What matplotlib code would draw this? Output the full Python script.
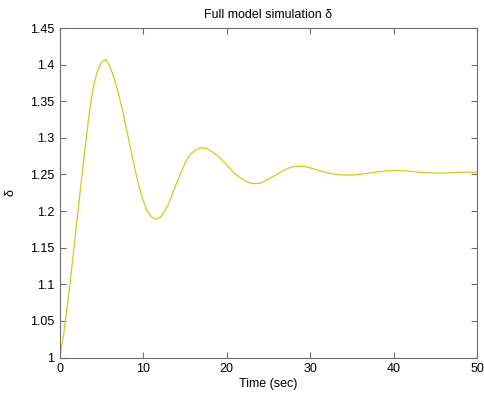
import matplotlib
matplotlib.use("Agg")
import matplotlib.pyplot as plt

# Simulated response of the full model (time in seconds)
time_sec = [i * 0.5 for i in range(101)]
delta = [
    1.000, 1.034, 1.079, 1.128, 1.180, 1.232, 1.282, 1.330, 1.368, 1.391,
    1.4035, 1.407, 1.398, 1.382, 1.362, 1.339, 1.312, 1.285, 1.258, 1.234,
    1.214, 1.200, 1.192, 1.189, 1.191, 1.198, 1.209, 1.223, 1.238, 1.252,
    1.265, 1.275, 1.281, 1.285, 1.2865, 1.286, 1.283, 1.279, 1.275, 1.269,
    1.263, 1.257, 1.251, 1.2465, 1.243, 1.240, 1.238, 1.2375, 1.238, 1.2405,
    1.2435, 1.2468, 1.250, 1.2535, 1.2565, 1.259, 1.2605, 1.2612, 1.2612, 1.2605,
    1.259, 1.2575, 1.2558, 1.254, 1.2525, 1.2513, 1.2503, 1.2497, 1.2494, 1.2493,
    1.2494, 1.2497, 1.2503, 1.251, 1.2518, 1.2527, 1.2535, 1.2542, 1.2548, 1.2552,
    1.2554, 1.2555, 1.2553, 1.2549, 1.2544, 1.2538, 1.2532, 1.2527, 1.2523, 1.2521,
    1.252, 1.252, 1.2521, 1.2523, 1.2525, 1.2527, 1.2529, 1.253, 1.2531, 1.2531,
    1.2531,
]

x_ticks = [0, 10, 20, 30, 40, 50]
y_ticks = [1.0, 1.05, 1.1, 1.15, 1.2, 1.25, 1.3, 1.35, 1.4, 1.45]
y_tick_labels = ["1", "1.05", "1.1", "1.15", "1.2", "1.25", "1.3", "1.35", "1.4", "1.45"]

plt.rcParams["font.family"] = ["Liberation Sans", "DejaVu Sans"]

fig = plt.figure(figsize=(4.84, 3.95), dpi=100)
ax = fig.add_axes([0.1234, 0.0947, 0.8621, 0.8344])

ax.plot(time_sec, delta, color="#cccc22", linewidth=0.9)

ax.set_xlim(0, 50)
ax.set_ylim(1.0, 1.45)
ax.set_xticks(x_ticks)
ax.set_yticks(y_ticks)
ax.set_yticklabels(y_tick_labels)

axis_color = "#6e6e6e"
for spine in ax.spines.values():
    spine.set_color(axis_color)
    spine.set_linewidth(0.8)
ax.tick_params(direction="in", top=True, right=True, length=4, width=0.8,
               color=axis_color, labelsize=9, labelcolor="black", pad=4)

ax.set_title("Full model simulation δ", fontsize=9, pad=7)
ax.set_xlabel("Time (sec)", fontsize=9, labelpad=2)
ax.set_ylabel("δ", fontsize=9, labelpad=10)

fig.savefig("out.png", dpi=100, facecolor="white")
